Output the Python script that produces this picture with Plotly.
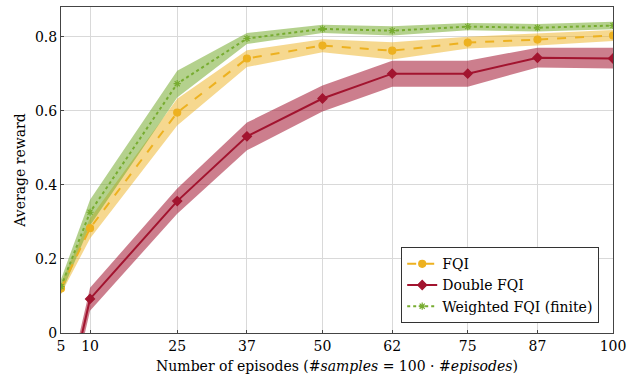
import plotly.graph_objects as go

episodes = [5, 10, 25, 37, 50, 62, 75, 87, 100]
tick_vals = [5, 10, 25, 37, 50, 62, 75, 87, 100]

fqi_mean = [0.12, 0.283, 0.595, 0.741, 0.776, 0.762, 0.784, 0.792, 0.803]
fqi_lo = [0.105, 0.255, 0.56, 0.718, 0.758, 0.738, 0.768, 0.776, 0.788]
fqi_hi = [0.135, 0.31, 0.632, 0.763, 0.793, 0.785, 0.8, 0.808, 0.818]

dfqi_mean = [-0.25, 0.092, 0.356, 0.531, 0.633, 0.70, 0.70, 0.743, 0.741]
dfqi_lo = [-0.28, 0.06, 0.322, 0.493, 0.598, 0.665, 0.665, 0.717, 0.714]
dfqi_hi = [-0.22, 0.122, 0.39, 0.568, 0.668, 0.735, 0.735, 0.77, 0.77]

wfqi_mean = [0.125, 0.326, 0.673, 0.795, 0.821, 0.816, 0.827, 0.824, 0.83]
wfqi_lo = [0.105, 0.29, 0.636, 0.78, 0.81, 0.803, 0.817, 0.814, 0.82]
wfqi_hi = [0.145, 0.36, 0.708, 0.81, 0.832, 0.828, 0.837, 0.834, 0.84]

series = [
    ("FQI", fqi_mean, fqi_lo, fqi_hi, "#EDB120", "rgba(237,177,32,0.5)", "dash", "circle", 7),
    ("Double FQI", dfqi_mean, dfqi_lo, dfqi_hi, "#A2142F", "rgba(162,20,47,0.55)", "solid", "diamond", 7),
    ("Weighted FQI (finite)", wfqi_mean, wfqi_lo, wfqi_hi, "#77AC30", "rgba(119,172,48,0.55)", "dot", "asterisk-open", 6),
]

fig = go.Figure()
for name, m, lo, hi, c, fc, dash, sym, ms in series:
    fig.add_trace(go.Scatter(
        x=episodes + episodes[::-1], y=hi + lo[::-1],
        fill="toself", fillcolor=fc, line=dict(width=0),
        mode="lines", hoverinfo="skip", showlegend=False))
for name, m, lo, hi, c, fc, dash, sym, ms in series:
    fig.add_trace(go.Scatter(
        x=episodes, y=m, name=name, mode="lines+markers",
        line=dict(color=c, width=2, dash=dash),
        marker=dict(symbol=sym, size=ms, color=c, line=dict(color=c, width=1.2))))

font = "DejaVu Serif"
fig.update_layout(
    width=632, height=381,
    margin=dict(l=61, r=11, t=6, b=48),
    plot_bgcolor="white", paper_bgcolor="white",
    font=dict(family=font, size=14, color="black"),
    legend=dict(x=0.975, y=0.03, xanchor="right", yanchor="bottom",
                bgcolor="white", bordercolor="#333", borderwidth=1,
                font=dict(size=14), tracegroupgap=0, itemwidth=30),
    xaxis=dict(range=[5, 100], tickvals=tick_vals, ticktext=[str(t) for t in tick_vals],
               showgrid=True, gridcolor="#d9d9d9", gridwidth=1,
               showline=True, linecolor="#444", linewidth=1, mirror=True,
               ticks="inside", ticklen=3, tickcolor="#444", zeroline=False,
               ticklabeloverflow="allow",
               title=dict(text="Number of episodes (#<i>samples</i> = 100 · #<i>episodes</i>)",
                          standoff=8, font=dict(size=14))),
    yaxis=dict(range=[0, 0.88], tickvals=[0, 0.2, 0.4, 0.6, 0.8],
               ticktext=["0", "0.2", "0.4", "0.6", "0.8"],
               showgrid=True, gridcolor="#d9d9d9", gridwidth=1,
               showline=True, linecolor="#444", linewidth=1, mirror=True,
               ticks="inside", ticklen=3, tickcolor="#444", zeroline=False,
               title=dict(text="Average reward", standoff=6, font=dict(size=14))),
)

fig.write_html("out.html")
